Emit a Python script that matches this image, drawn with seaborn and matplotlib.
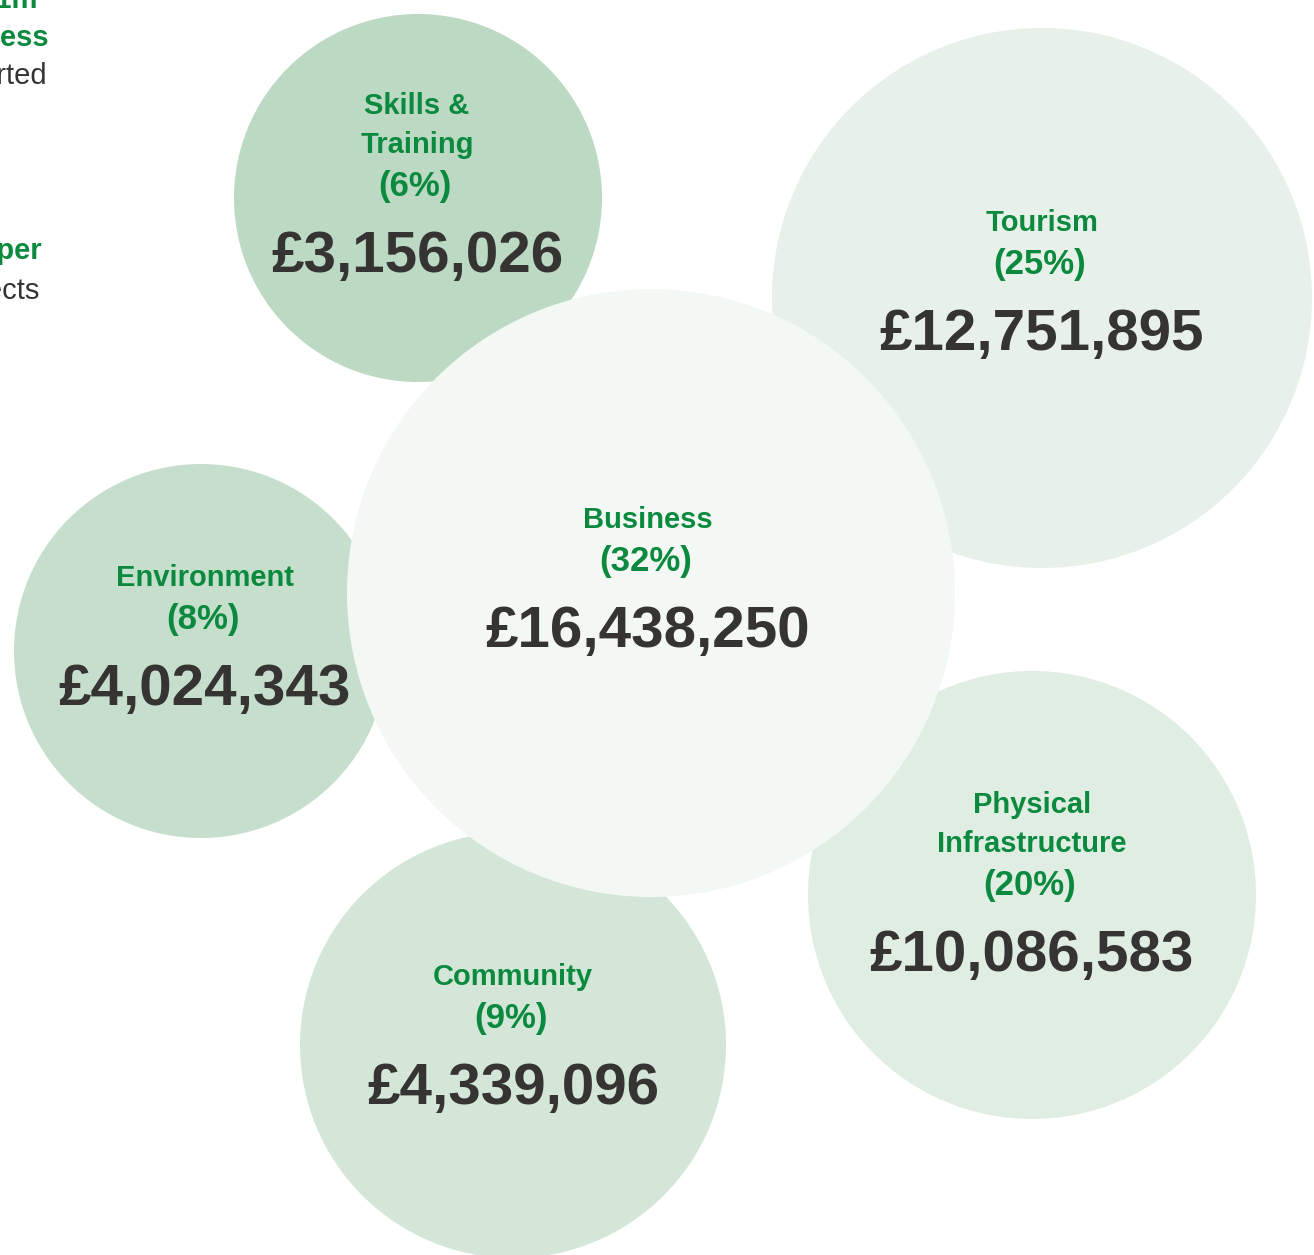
import matplotlib
matplotlib.use("Agg")
import matplotlib.pyplot as plt
from matplotlib.patches import Circle
import seaborn as sns

# Data
categories = ["Skills &\nTraining", "Tourism", "Environment", "Community",
              "Physical\nInfrastructure", "Business"]
amounts = [3156026, 12751895, 4024343, 4339096, 10086583, 16438250]
percents = [6, 25, 8, 9, 20, 32]

# Layout (pixel space of a 1314x1255 canvas)
centers = [(418, 198), (1042, 298), (201, 651), (513, 1045), (1032, 895), (651, 593)]
radii = [184, 270, 187, 213, 224, 304]
text_x = [417, 1042, 205, 513, 1032, 648]
text_top = [104, 221, 576, 975, 803, 518]
colors = ["#bcd9c3", "#e7f1e9", "#c6dfcc", "#d3e6d7", "#dfede2", "#f3f8f4"]

green = "#0b8a3f"
dark = "#363433"

sns.set_theme(style="white")
plt.rcParams["font.family"] = ["Liberation Sans", "DejaVu Sans"]

fig = plt.figure(figsize=(13.14, 12.55), dpi=100)
ax = fig.add_axes([0, 0, 1, 1])
ax.set_xlim(0, 1314)
ax.set_ylim(1255, 0)
ax.set_aspect("equal")
ax.axis("off")

for i, (name, amt, pct) in enumerate(zip(categories, amounts, percents)):
    ax.add_patch(Circle(centers[i], radii[i], facecolor=colors[i], edgecolor="none", zorder=i))
    y = text_top[i]
    for line in name.split("\n"):
        ax.text(text_x[i], y + 10, line, ha="center", va="baseline", fontsize=21,
                fontweight="bold", color=green, zorder=i + 0.5)
        y += 39
    y += 2
    ax.text(text_x[i] - 2, y + 12, f"({pct}%)", ha="center", va="baseline", fontsize=25,
            fontweight="bold", color=green, zorder=i + 0.5)
    ax.text(text_x[i], y + 67 + 21, f"£{amt:,}", ha="center", va="baseline",
            fontsize=42, fontweight="bold", color=dark, zorder=i + 0.5)

# fragments of the neighbouring panel, cut at the left edge
side_texts = ["Business", "Supported", "Developer", "Projects"]
side_x = [49, 47, 42, 40]
side_y = [46, 84, 259, 299]
side_col = [green, dark, green, dark]
side_w = ["bold", "normal", "bold", "normal"]
for t, x, y, c, w in zip(side_texts, side_x, side_y, side_col, side_w):
    ax.text(x, y, t, ha="right", va="baseline", fontsize=21, fontweight=w, color=c)
ax.text(38, 8, "£51m", ha="right", va="baseline", fontsize=21, fontweight="bold", color=green)

fig.savefig("out.png", dpi=100)
